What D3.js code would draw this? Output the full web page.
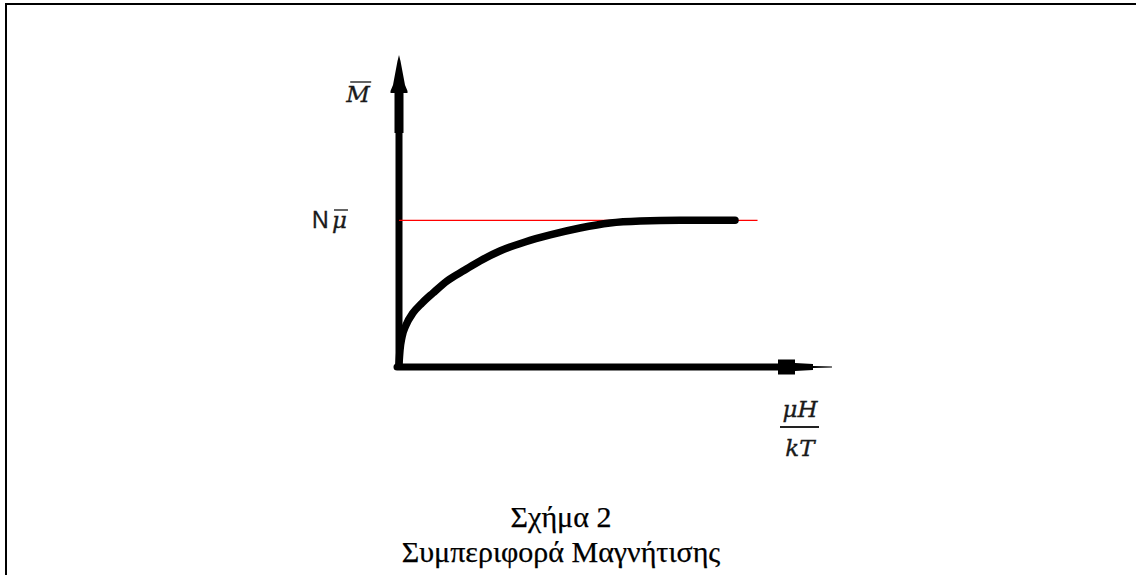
<!DOCTYPE html>
<html>
<head>
<meta charset="utf-8">
<script src="https://cdn.jsdelivr.net/npm/d3@7"></script>
<style>
  body { margin: 0; background: #fff; }
  svg { display: block; }
</style>
</head>
<body>
<svg id="chart" width="1136" height="575"></svg>
<script>
// magnetisation curve, in units of N*mu (y) against muH/kT (x, arbitrary)
var fieldX = [0, 0.23, 0.69, 1.62, 3.23, 5.31, 7.85, 11.1, 15.2, 18.7, 23.3, 29.1, 34.9, 41.8, 48.7, 55.7, 64.9, 77.6];
var magnet = [0, 0.097, 0.188, 0.271, 0.355, 0.424, 0.494, 0.578, 0.654, 0.717, 0.786, 0.849, 0.898, 0.946, 0.981, 0.995, 1.0, 1.0];
var saturation = 1.0;        // N mu-bar
var satLineEnd = 82.8;       // where the red line stops
var axisMaxX = 100;
var axisMaxY = 2.15;
var captionLines = ["Σχήμα 2", "Συμπεριφορά Μαγνήτισης"];

var svg = d3.select("#chart");
var W = 1136, H = 575;

var xScale = d3.scaleLinear().domain([0, axisMaxX]).range([399, 832]);
var yScale = d3.scaleLinear().domain([0, axisMaxY]).range([364, 55]);

// page frame (top and left edges only)
svg.append("line").attr("x1", 5).attr("y1", 4).attr("x2", W).attr("y2", 4)
    .attr("stroke", "black").attr("stroke-width", 2);
svg.append("line").attr("x1", 6).attr("y1", 3).attr("x2", 6).attr("y2", H)
    .attr("stroke", "black").attr("stroke-width", 2);

var x0 = xScale(0), y0 = yScale(0);

// y axis shaft + stepped arrowhead
var yTip = yScale(axisMaxY);
svg.append("line")
    .attr("x1", x0).attr("y1", y0 + 2).attr("x2", x0).attr("y2", yTip + 38)
    .attr("stroke", "black").attr("stroke-width", 7).attr("stroke-linecap", "round");
svg.append("rect").attr("x", x0 - 4.5).attr("y", yTip + 36).attr("width", 9).attr("height", 42).attr("fill", "black");
var yHead = [[0, 0], [1.5, 6], [3, 14], [4.5, 22], [6, 30], [8.5, 36], [8.5, 38], [-8.5, 38], [-8.5, 36], [-6, 30], [-4.5, 22], [-3, 14], [-1.5, 6]];
svg.append("polygon")
    .attr("points", yHead.map(function(p) { return (x0 + p[0]) + "," + (yTip + p[1]); }).join(" "))
    .attr("fill", "black");

// x axis shaft + stepped arrowhead
var xTip = xScale(axisMaxX);
svg.append("line")
    .attr("x1", x0 - 2).attr("y1", y0 + 3).attr("x2", xTip - 52).attr("y2", y0 + 3)
    .attr("stroke", "black").attr("stroke-width", 7).attr("stroke-linecap", "round");
var xHead = [[-54, -7.5], [-37, -7.5], [-37, -4], [-19, -3], [-19, -1], [0, -0.5], [0, 0.5], [-19, 1], [-19, 3], [-37, 4], [-37, 7.5], [-54, 7.5]];
svg.append("polygon")
    .attr("points", xHead.map(function(p) { return (xTip + p[0]) + "," + (y0 + 3 + p[1]); }).join(" "))
    .attr("fill", "black");

// saturation line
svg.append("line")
    .attr("x1", x0).attr("x2", xScale(satLineEnd))
    .attr("y1", yScale(saturation)).attr("y2", yScale(saturation))
    .attr("stroke", "#ff0000").attr("stroke-width", 1.2);

// magnetisation curve
var pts = fieldX.map(function(d, i) { return [d, magnet[i]]; });
var line = d3.line()
    .x(function(d) { return xScale(d[0]); })
    .y(function(d) { return yScale(d[1]); })
    .curve(d3.curveMonotoneX);
svg.append("path")
    .datum(pts)
    .attr("d", line)
    .attr("fill", "none")
    .attr("stroke", "black")
    .attr("stroke-width", 7.5)
    .attr("stroke-linecap", "round");

// helper: overbar over a text element
function overbar(t, dy, shrinkL, shrinkR) {
    var b = t.node().getBBox();
    svg.append("line")
        .attr("x1", b.x + shrinkL).attr("x2", b.x + b.width - shrinkR)
        .attr("y1", b.y + dy).attr("y2", b.y + dy)
        .attr("stroke", "#222").attr("stroke-width", 1.4);
}

var mathFont = "'DejaVu Serif', 'Liberation Serif', serif";
var mathSize = "23px";

function mathText(x, y, s, anchor) {
    return svg.append("text")
        .attr("x", x).attr("y", y)
        .attr("text-anchor", anchor)
        .style("font-family", mathFont).style("font-style", "italic")
        .style("font-size", mathSize).attr("fill", "#1a1a1a")
        .attr("stroke", "#1a1a1a").attr("stroke-width", 0.35)
        .text(s);
}

// axis labels
var mLab = mathText(358, 102, "M", "middle");
overbar(mLab, 1, 5, 0);

svg.append("text")
    .attr("x", 312).attr("y", 228)
    .style("font-family", "'Liberation Sans', Arial, sans-serif")
    .style("font-size", "23px").attr("fill", "#1a1a1a")
    .attr("stroke", "#1a1a1a").attr("stroke-width", 0.3)
    .text("N");
var muLab = mathText(332, 228, "μ", "start");
overbar(muLab, 3, 2, -1);

var fx = 800;
mathText(fx, 417, "μH", "middle");
svg.append("line")
    .attr("x1", fx - 20).attr("x2", fx + 19).attr("y1", 427).attr("y2", 427)
    .attr("stroke", "#222").attr("stroke-width", 1.8);
mathText(fx, 456, "kT", "middle");

// caption
svg.selectAll("text.caption")
    .data(captionLines)
    .enter().append("text")
    .attr("class", "caption")
    .attr("x", 561)
    .attr("y", function(d, i) { return 527 + i * 35; })
    .attr("text-anchor", "middle")
    .style("font-family", "'Liberation Serif', 'Times New Roman', serif")
    .style("font-size", "30px")
    .attr("fill", "black")
    .attr("stroke", "black").attr("stroke-width", 0.25)
    .text(function(d) { return d; });
</script>
</body>
</html>
